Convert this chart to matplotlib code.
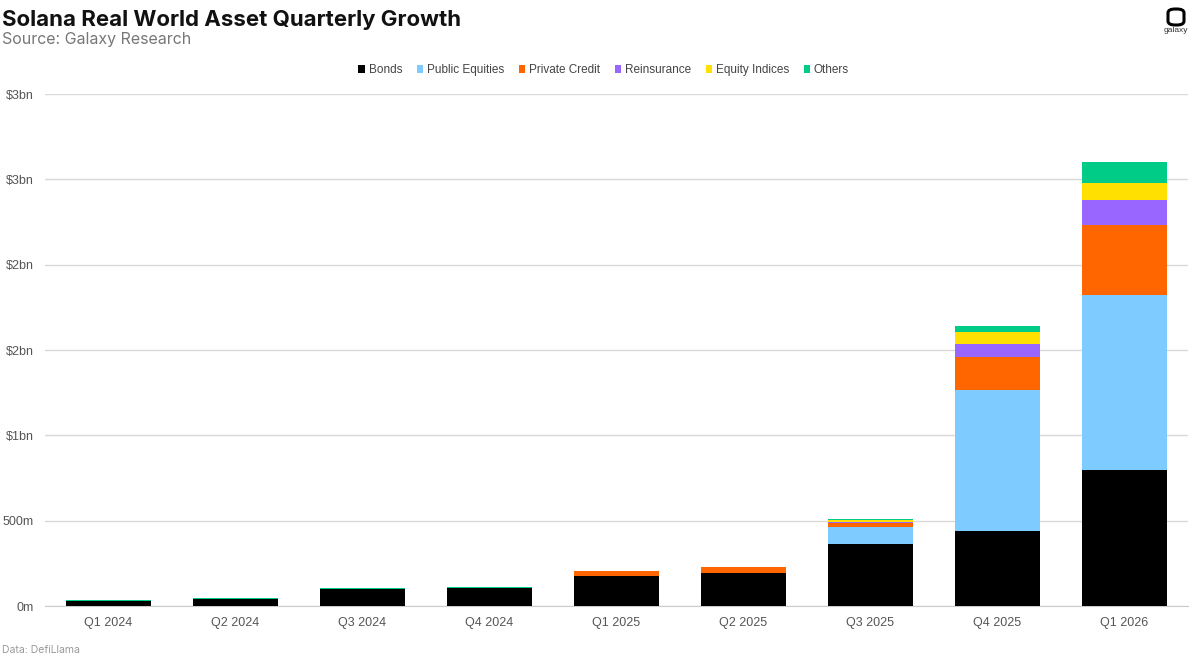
import matplotlib
matplotlib.use("Agg")
import matplotlib.pyplot as plt
import numpy as np
from matplotlib.patches import FancyBboxPatch

quarters = ["Q1 2024", "Q2 2024", "Q3 2024", "Q4 2024", "Q1 2025",
            "Q2 2025", "Q3 2025", "Q4 2025", "Q1 2026"]

# values in $bn
bonds = [0.028, 0.040, 0.098, 0.106, 0.176, 0.193, 0.363, 0.439, 0.797]
public_equities = [0, 0, 0, 0, 0, 0, 0.098, 0.828, 1.027]
private_credit = [0, 0, 0, 0, 0.031, 0.034, 0.024, 0.193, 0.410]
reinsurance = [0, 0, 0, 0, 0, 0, 0.006, 0.075, 0.146]
equity_indices = [0, 0, 0, 0, 0, 0, 0.012, 0.072, 0.096]
others = [0.006, 0.006, 0.006, 0.006, 0.001, 0.001, 0.008, 0.035, 0.125]

series_names = ["Bonds", "Public Equities", "Private Credit", "Reinsurance",
                "Equity Indices", "Others"]
series_colors = ["#000000", "#7DCBFF", "#FF6600", "#9966FF", "#FFE000", "#00CC88"]

y_ticks = [0, 0.5, 1.0, 1.5, 2.0, 2.5, 3.0]
y_tick_labels = ["0m", "500m", "$1bn", "$2bn", "$2bn", "$3bn", "$3bn"]

plt.rcParams["font.family"] = ["Liberation Sans", "DejaVu Sans"]

fig = plt.figure(figsize=(12, 6.56), dpi=100)
ax = fig.add_axes([0.0375, 0.0762, 0.9525, 0.7805])

x = np.arange(len(quarters))
bottom = np.zeros(len(quarters))
handles = []
for name, vals, col in zip(series_names,
                           [bonds, public_equities, private_credit, reinsurance,
                            equity_indices, others],
                           series_colors):
    vals = np.array(vals)
    b = ax.bar(x, vals, bottom=bottom, width=0.67, color=col, label=name,
               linewidth=0, zorder=3)
    handles.append(b)
    bottom += vals

ax.set_xlim(-0.5, len(quarters) - 0.5)
ax.set_ylim(0, 3.0)
ax.set_yticks(y_ticks)
ax.set_yticklabels(y_tick_labels)
ax.set_xticks(x)
ax.set_xticklabels(quarters)
ax.tick_params(axis="both", length=0, labelsize=9, labelcolor="#555555")
ax.tick_params(axis="x", pad=8)
ax.tick_params(axis="y", pad=8)
ax.yaxis.grid(True, color="#d9d9d9", linewidth=1, zorder=0)
ax.set_axisbelow(True)
for s in ["top", "right", "left"]:
    ax.spines[s].set_visible(False)
ax.spines["bottom"].set_color("#cccccc")

fig.legend(handles=handles, labels=series_names, loc="center",
           bbox_to_anchor=(0.503, 0.893), ncol=6, frameon=False,
           fontsize=8.5, handlelength=0.55, handleheight=0.55,
           handletextpad=0.3, columnspacing=1.25, labelcolor="#444444")

fig.text(0.002, 0.985, "Solana Real World Asset Quarterly Growth",
         fontsize=16, fontweight="bold", color="#111111", va="top",
         family=["Inter", "DejaVu Sans"])
fig.text(0.002, 0.951, "Source: Galaxy Research", fontsize=11.5,
         color="#777777", va="top", family=["Inter", "DejaVu Sans"])
fig.text(0.002, 0.001, "Data: DefiLlama", fontsize=7.5, color="#999999",
         va="bottom", family=["Inter", "DejaVu Sans"])

# galaxy logo
logo = FancyBboxPatch((1168 / 1200, 1 - 25 / 656), 16 / 1200, 16 / 656,
                      boxstyle="round,pad=0,rounding_size=0.006",
                      transform=fig.transFigure, facecolor="white",
                      edgecolor="black", linewidth=2.2)
fig.patches.append(logo)
fig.text(1176 / 1200, 1 - 31 / 656, "galaxy", fontsize=6, color="#333333",
         ha="center", va="center")

fig.savefig("out.png", dpi=100)
